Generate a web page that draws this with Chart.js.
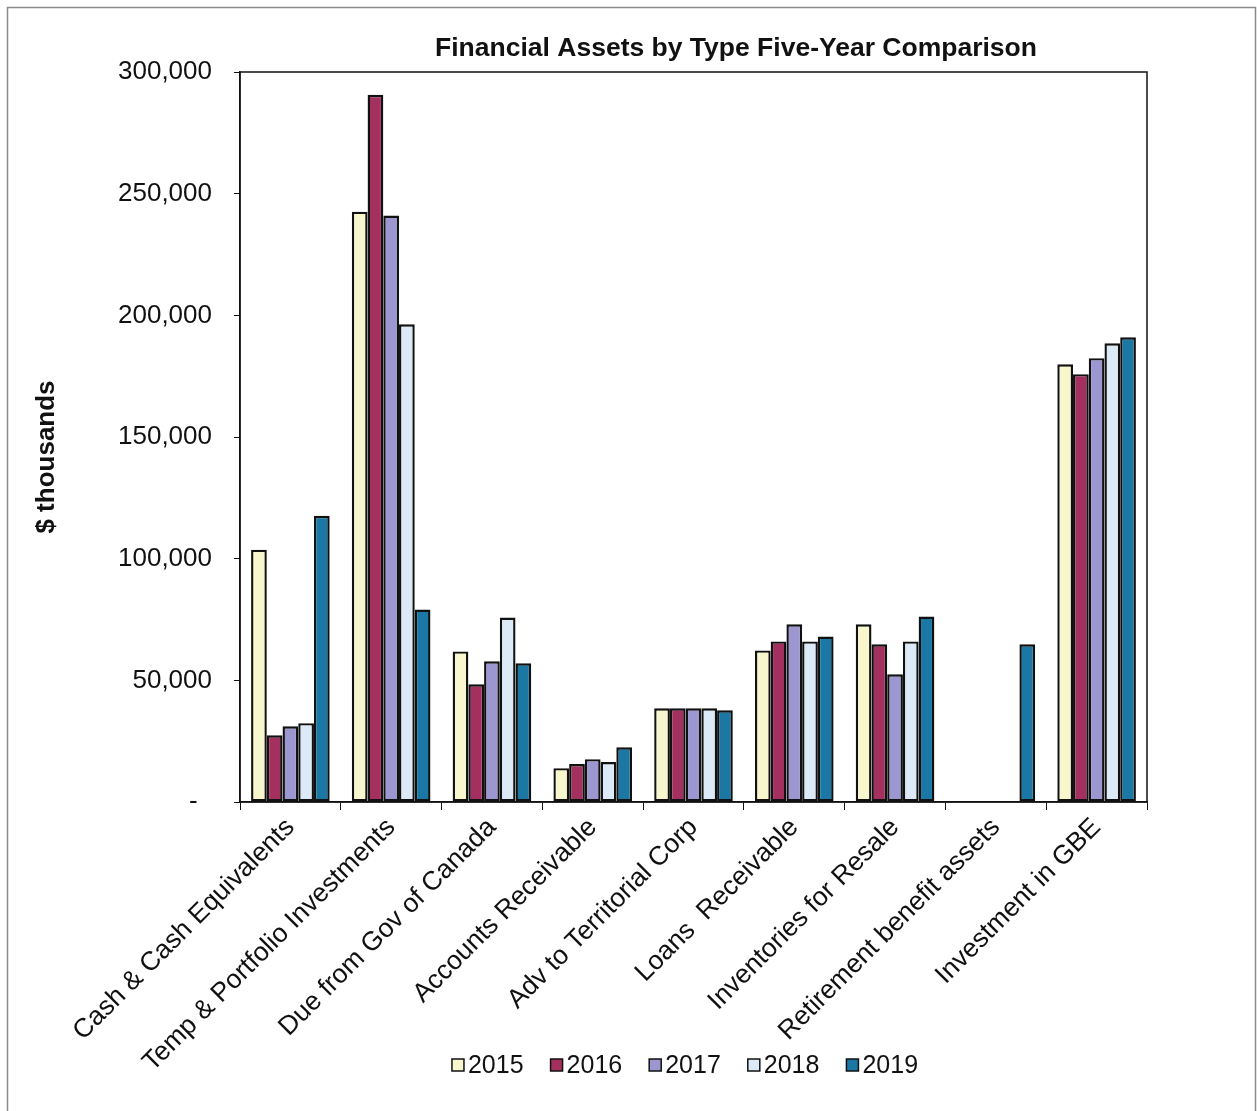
<!DOCTYPE html>
<html>
<head>
<meta charset="utf-8">
<title>Financial Assets by Type</title>
<script src="https://cdn.jsdelivr.net/npm/chart.js@4.4.1/dist/chart.umd.min.js"></script>
<style>
  body { margin: 0; background: #fff; }
  canvas { display: block; }
</style>
</head>
<body>
<canvas id="assets" width="1257" height="1111"></canvas>
<script>
// categories and yearly values ($ thousands)
const categories = [
  'Cash & Cash Equivalents',
  'Temp & Portfolio Investments',
  'Due from Gov of Canada',
  'Accounts Receivable',
  'Adv to Territorial Corp',
  'Loans  Receivable',
  'Inventories for Resale',
  'Retirement benefit assets',
  'Investment in GBE'
];
const years = ['2015', '2016', '2017', '2018', '2019'];
const values2015 = [103700, 242600, 61900, 13900, 38500, 62300, 73000, 0, 179900];
const values2016 = [27400, 290600, 48400, 15600, 38500, 66000, 64800, 0, 175800];
const values2017 = [31100, 241000, 57800, 17600, 38500, 73000, 52500, 0, 182400];
const values2018 = [32400, 196300, 75800, 16400, 38500, 66000, 66000, 0, 188500];
const values2019 = [117600, 79100, 57000, 22500, 37700, 68000, 76200, 64800, 191000];
const yTicks = [0, 50000, 100000, 150000, 200000, 250000, 300000];

const seriesColors = ['#f8f6cc', '#a3305f', '#9c97d0', '#dce9f7', '#1b77a3'];
const allValues = [values2015, values2016, values2017, values2018, values2019];
const FONT = "'Liberation Sans', Arial, sans-serif";

const datasets = years.map((year, i) => ({
  label: year,
  data: allValues[i],
  backgroundColor: seriesColors[i],
  borderColor: '#111',
  borderWidth: 2.4,
  borderSkipped: false,
  categoryPercentage: 0.78,
  barPercentage: 1.0
}));

// title, axis title, legend, plot frame and outer border
const decorations = {
  id: 'decorations',
  afterDraw(chart) {
    const { ctx, chartArea } = chart;
    ctx.save();
    ctx.strokeStyle = '#8a8a8a';
    ctx.lineWidth = 1.5;
    ctx.strokeRect(7.5, 7.5, 1248, 1200);

    ctx.strokeStyle = '#111';
    ctx.lineWidth = 1.5;
    ctx.strokeRect(chartArea.left, chartArea.top, chartArea.right - chartArea.left, chartArea.bottom - chartArea.top);

    ctx.fillStyle = '#111';
    ctx.font = 'bold 26.5px ' + FONT;
    ctx.textAlign = 'center';
    ctx.textBaseline = 'middle';
    ctx.fillText('Financial Assets by Type Five-Year Comparison', 736, 49);

    ctx.save();
    ctx.translate(47, 457);
    ctx.rotate(-Math.PI / 2);
    ctx.font = 'bold 26px ' + FONT;
    ctx.fillText('$ thousands', 0, 0);
    ctx.restore();

    // legend row under the axis labels
    ctx.font = '25px ' + FONT;
    ctx.textAlign = 'left';
    const box = 12, gap = 4, spacing = 27;
    const items = chart.data.datasets.map(ds => ({
      text: ds.label, color: ds.backgroundColor, w: box + gap + ctx.measureText(ds.label).width
    }));
    const total = items.reduce((s, it) => s + it.w, 0) + spacing * (items.length - 1);
    let x = 685 - total / 2;
    const y = 1065;
    items.forEach(it => {
      ctx.fillStyle = it.color;
      ctx.fillRect(x, y - box / 2, box, box);
      ctx.strokeStyle = '#111';
      ctx.lineWidth = 1.5;
      ctx.strokeRect(x, y - box / 2, box, box);
      ctx.fillStyle = '#111';
      ctx.fillText(it.text, x + box + gap, y + 1);
      x += it.w + spacing;
    });
    ctx.restore();
  }
};

new Chart(document.getElementById('assets'), {
  type: 'bar',
  data: { labels: categories, datasets },
  options: {
    responsive: false,
    animation: false,
    layout: { padding: { left: 30, right: 110, top: 72, bottom: 0 } },
    plugins: {
      legend: { display: false },
      tooltip: { enabled: false }
    },
    scales: {
      x: {
        afterFit(scale) { scale.height = 309; },
        grid: { offset: true, drawOnChartArea: false, tickLength: 8, color: '#111' },
        border: { color: '#111', width: 1.5 },
        ticks: {
          color: '#111',
          font: { family: FONT, size: 26.5 },
          minRotation: 45,
          maxRotation: 45,
          autoSkip: false,
          padding: 2
        }
      },
      y: {
        min: 0,
        max: 300000,
        afterFit(scale) { scale.width = 210; },
        afterBuildTicks(scale) { scale.ticks = yTicks.map(v => ({ value: v })); },
        grid: { drawOnChartArea: false, tickLength: 6, color: '#111' },
        border: { color: '#111', width: 1.5 },
        ticks: {
          color: '#111',
          font: { family: FONT, size: 26 },
          padding: 22,
          callback: v => v === 0 ? '-  ' : v.toLocaleString('en-US')
        }
      }
    }
  },
  plugins: [decorations]
});
</script>
</body>
</html>
